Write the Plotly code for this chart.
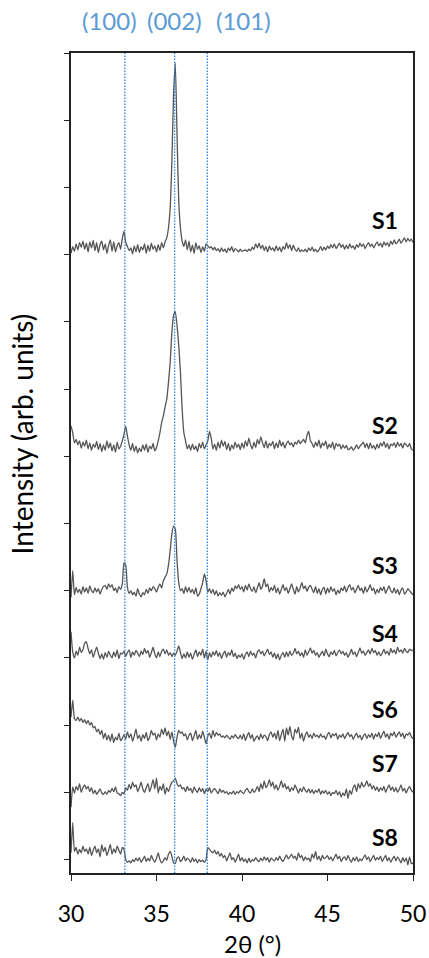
import numpy as np
import plotly.graph_objects as go

# 2-theta grid (degrees), 0.1 deg step
two_theta = np.round(np.arange(30.0, 50.0001, 0.1), 1)

# Intensities (arbitrary counts, 100 = one y-tick spacing), one value per 0.1 deg
S1 = [-8, 2, -5, 6, -3, 8, 1, 10, -2, 7,
      -6, 9, 0, 11, -4, 8, -7, 5, 10, -3,
      6, -8, 4, 12, -5, 9, -6, 3, 8, -2,
      14, 25, 8, 2, -4, 0, -9, 3, -6, 5,
      -7, 2, -3, 6, -8, 4, -5, 7, -2, 3,
      -6, 5, -4, 8, 0, 9, 15, 30, 60, 130,
      230, 275, 170, 70, 30, 10, 2, 12, -3, 10,
      -6, 4, -8, 8, -2, 3, -7, 2, -5, 6,
      3, 0, 2, -3, 1, -4, -1, -6, 0, -5,
      -2, -7, 0, -4, 2, -6, -1, -3, -6, -2,
      -5, -4, -3, -5, -2, -4, 1, -2, 6, 0,
      7, -1, 4, -4, 2, -6, 3, -3, 0, -5,
      3, -4, 1, -6, 2, -2, 8, -1, 5, -4,
      4, -2, -5, 0, -6, -3, -5, -2, -6, 0,
      -4, 1, -5, -2, -6, -3, 2, -4, 1, -3,
      3, -1, 5, 0, 6, -1, 3, 7, 1, 5,
      -2, 4, -1, 6, 0, 3, -2, 5, 1, 7,
      2, 6, -1, 4, 8, 2, 6, 0, 5, 9,
      3, 7, 1, 9, 4, 8, 2, 10, 5, 12,
      6, 9, 13, 7, 11, 15, 9, 14, 10, 13,
      8]

S2 = [30, 20, 5, 10, 2, 8, -3, 6, 0, 9,
      -4, 5, -6, 3, -2, 7, -5, 4, -8, 2,
      -6, 8, -3, 5, -7, 2, -9, 6, -4, 0,
      8, 18, 30, 15, 2, -6, 4, -8, 0, -10,
      -3, -8, 2, -6, 3, -9, 0, -4, 4, -7,
      -2, 8, 20, 35, 45, 58, 70, 95, 125, 170,
      195, 200, 180, 150, 110, 55, 20, 8, -4, 2,
      -6, 3, -5, 0, -8, 4, -3, 6, -4, 2,
      8, 22, 12, -4, 3, -6, 6, -3, 9, 0,
      7, -5, 4, -7, 2, -4, 6, -2, 3, -5,
      5, -3, 8, 0, 12, 2, -4, 6, -2, 10,
      3, 14, 5, -2, 8, -3, 4, 1, 7, -4,
      5, -2, 9, 0, 6, -3, 4, 8, 2, 5,
      -1, 6, 3, 9, 4, 7, 10, 5, 16, 22,
      8, 4, -2, 6, 0, 9, -3, 5, 1, 8,
      -4, 3, -2, 6, -5, 4, 0, 3, -4, 2,
      -3, 1, -5, -4, -1, -6, -3, 2, -4, 0,
      3, 6, -2, 4, -4, 5, -3, 1, -5, 3,
      -3, 5, 0, 7, -2, 4, -4, 3, 1, 5,
      -2, 6, 0, 4, -3, 5, 2, -1, 4, -4,
      -6]

S3 = [-10, 30, -6, 5, -3, 2, -5, 6, -2, 4,
      -4, 7, 0, -3, 4, -2, 3, -5, 2, 6,
      8, 2, 10, 5, 9, 0, 4, -3, 6, 2,
      10, 42, 38, 5, -4, 0, -6, -2, -8, 3,
      -5, -9, -3, -6, 2, -4, 4, 0, 6, 3,
      -2, 5, 10, 4, 15, 20, 25, 38, 60, 85,
      96, 92, 45, 12, 0, 3, -4, 6, -2, 5,
      -3, 2, -5, 4, -8, -5, 3, 12, 25, 15,
      -2, 3, -4, 2, -6, 0, -8, -3, -7, -2,
      -9, -4, 2, -5, 4, -1, 7, 3, 9, 2,
      6, -2, 8, 1, 10, 3, -1, 6, -3, 4,
      12, 2, 7, 18, 6, 10, -2, 5, 0, 8,
      -3, 4, -5, 2, 9, 0, 5, -4, 3, 10,
      2, -5, 6, -2, 4, 12, 3, 7, -1, 5,
      8, 2, -3, 6, -4, 3, -6, 2, 5, -5,
      4, -3, 6, -1, 3, -6, 1, -4, 4, 0,
      7, -2, 5, 9, 1, 5, -3, 2, 8, 0,
      4, -4, 6, -2, 3, 9, 0, 4, -5, 2,
      -3, 5, 0, 6, -4, 2, 7, 0, -3, 4,
      -4, 2, -6, 1, 4, -5, -2, 3, 0, -3,
      -6]

S4 = [35, 5, -4, 6, 0, 12, 4, 8, 18, 20,
      10, 2, 8, -3, 5, 12, 3, -5, 2, -6,
      4, -3, 6, 0, -4, 5, -2, 8, -5, 3,
      2, 6, -2, 4, 8, -3, 5, 0, 7, 3,
      -2, 6, 1, 10, 3, 7, -3, 4, 12, 2,
      -4, 5, -2, 6, 9, 2, 8, 0, 4, -2,
      3, 0, 6, 14, 4, -5, 2, -4, 5, -3,
      3, -6, 1, 8, -2, 5, 0, 9, -4, 6,
      -7, 4, -3, 5, 0, 7, -2, 4, -5, 2,
      6, -3, 4, 0, 8, -2, 3, -5, 0, -3,
      2, -6, 1, 5, -2, 6, 0, 3, -4, 5,
      8, 2, 6, -1, 4, 9, 1, 5, -3, 3,
      -5, 2, -7, 0, 4, -3, 5, -2, 6, 0,
      3, 10, 2, 6, -1, 4, -3, 8, 0, 5,
      11, 3, 7, 0, 4, -3, 2, 6, -1, 9,
      2, -2, 5, 1, 7, -1, 4, 8, 2, 6,
      0, 4, -3, 2, 9, 1, 5, -2, 4, 11,
      3, 6, 0, 4, 8, 2, 10, 4, 7, 0,
      5, -1, 3, 9, 2, 6, 0, 10, 4, 8,
      2, 12, 5, 8, 3, 10, 6, 4, 9, 7,
      8]

S6 = [30, 55, 28, 25, 30, 24, 28, 22, 26, 20,
      25, 18, 22, 14, 16, 8, 12, 4, 10, -2,
      6, -4, 3, -6, 5, -8, 0, -4, 6, -5,
      -2, 4, -3, 8, -1, 5, -6, 2, 12, -2,
      3, -6, 4, -2, 7, -5, 0, 10, 3, 6,
      -4, 5, 0, 12, 4, 14, 2, 9, -3, 8,
      -6, -15, 0, 10, 6, 8, 2, 5, -4, 3,
      6, -5, 2, 10, -3, 4, -2, 9, 0, -10,
      2, 6, -2, 10, 1, 7, 3, 5, 0, 2,
      -1, 3, 0, -3, 2, -1, 4, 0, -2, 3,
      -3, 5, -5, 2, 7, -2, 4, -6, -1, 2,
      -4, 5, -2, 3, 1, -5, 4, 8, 0, 6,
      -3, 10, -5, 4, 12, -6, 14, 3, 16, 2,
      -4, 12, 6, 15, -2, 6, -6, 3, 8, 0,
      4, -2, 6, 1, 3, -1, 5, 0, 2, -3,
      4, 7, -1, 5, 2, 6, -3, 3, 0, 5,
      -2, 3, 7, 1, 4, -3, 2, 6, -1, 3,
      -4, 2, 5, -2, 4, 0, 6, -3, 5, 1,
      7, -2, 4, 9, 0, 5, -3, 6, 2, 8,
      0, 4, 8, 1, 6, -2, 5, 3, 7, 1,
      -2]

S7 = [-25, 5, -4, 6, 0, 10, -3, 4, 8, 2,
      6, -2, 4, -5, 0, -6, -2, 2, -4, -6,
      -2, -6, 0, -3, 3, -2, 5, -4, -5, -8,
      -3, -5, 4, 0, 9, 2, 12, 5, 8, -2,
      4, 12, 2, -3, 4, 10, -2, 6, 16, 2,
      18, -4, 6, 0, 10, -6, 4, -2, 6, 12,
      14, 18, 10, 6, 8, 2, 4, -2, 6, 0,
      3, -4, 5, 0, -3, 4, -2, 3, -5, 2,
      -2, 4, -4, 0, 3, -1, -5, 2, -3, 0,
      -4, -2, -6, -3, -5, -1, -6, -2, -4, 0,
      -3, -5, 0, 3, -2, -4, 2, -3, 0, 6,
      -2, 10, 2, 14, 4, 8, 16, 6, 12, 2,
      8, 0, 6, 14, 4, 10, 2, 6, -2, 4,
      0, 8, 2, -4, 3, -2, 5, 0, -3, 2,
      -4, 1, -5, 0, -3, 2, -6, -1, -4, 0,
      -6, -2, -8, -3, -5, 0, -7, -2, -10, -4,
      -8, 2, -12, 0, -6, 4, 8, -2, 10, 3,
      12, 5, 8, 14, 6, 10, 2, 7, 0, 5,
      -2, 4, 0, 6, -3, 3, 8, 0, 5, -2,
      4, -3, 2, 8, -1, 3, -4, 2, 6, 0,
      -3]

S8 = [10, 55, 12, 18, 8, 15, 10, 20, 12, 16,
      8, 18, 6, 14, 20, 10, 16, 4, 22, 12,
      18, 6, 14, 22, 8, 16, 10, 20, 14, 8,
      18, 15, 0, -4, -2, -5, 0, -3, 2, -2,
      3, -4, 0, 5, -3, 2, -2, 6, 0, -4,
      2, 10, 0, -5, -2, 3, -1, 8, 12, 5,
      -5, -6, 2, 4, -3, 0, 5, -2, 2, 0,
      -4, 3, -3, 1, -5, 0, -3, -1, -4, 0,
      18, 15, 12, 10, 14, 8, 12, 5, 9, 3,
      6, -2, 4, 10, 0, 3, -4, 2, 8, -2,
      3, -3, 1, -5, 2, -4, 0, -2, 3, -1,
      -3, 2, -2, 4, -1, 3, -4, 2, 0, -2,
      3, -1, 5, 0, -3, 2, 7, 1, 4, 8,
      2, 5, -1, 10, 3, 6, -2, 4, 0, 2,
      -3, 8, 2, 12, 0, 5, -2, 6, 1, 3,
      6, 0, 4, -2, 3, 8, 1, 5, -3, 2,
      4, -1, 6, 0, -4, 3, -2, 4, -3, 1,
      -2, 3, 7, 0, 4, -3, 2, 6, -1, 3,
      0, 5, -3, 2, 6, -2, 3, -4, 1, 5,
      -2, 4, 0, -5, 3, -3, 2, -8, 4, -6,
      -5]

sample_names = ["S1", "S2", "S3", "S4", "S6", "S7", "S8"]
sample_data = [S1, S2, S3, S4, S6, S7, S8]
stack_offsets = [9.1, 6.15, 4.0, 3.04, 1.82, 1.03, 0.0]
label_y = [9.52, 6.47, 4.38, 3.37, 2.24, 1.44, 0.34]

peak_pos = [33.15, 36.06, 37.97]
peak_labels = ["(100)", "(002)", "(101)"]
peak_label_x = [32.27, 36.07, 40.1]

FONT = "Lato"
BLUE = "#2F86E0"

fig = go.Figure()
for name, vals, off in zip(sample_names, sample_data, stack_offsets):
    y = off + np.array(vals, dtype=float) / 100.0
    fig.add_trace(go.Scatter(x=two_theta, y=y, mode="lines", name=name,
                             line=dict(color="#555555", width=1.3,
                                       shape="spline", smoothing=0.5),
                             showlegend=False, hoverinfo="skip"))

for p in peak_pos:
    fig.add_shape(type="line", x0=p, x1=p, xref="x", y0=0, y1=1, yref="paper",
                  line=dict(color=BLUE, width=1.3, dash="1.5px,1.5px"), layer="above")

for lx, lt in zip(peak_label_x, peak_labels):
    fig.add_annotation(x=lx, xref="x", y=1.040, yref="paper", text=lt,
                       showarrow=False, font=dict(family=FONT, size=24, color="#5B9BD5"),
                       xanchor="center", yanchor="middle")

for name, ly in zip(sample_names, label_y):
    fig.add_annotation(x=48.35, xref="x", y=ly, yref="y", text="<b>%s</b>" % name,
                       showarrow=False, font=dict(family=FONT, size=23, color="black"),
                       xanchor="center", yanchor="middle")

fig.add_annotation(x=-0.143, xref="paper", y=0.535, yref="paper",
                   text="Intensity (arb. units)", textangle=-90, showarrow=False,
                   font=dict(family=FONT, size=28, color="black"),
                   xanchor="center", yanchor="middle")
fig.add_annotation(x=0.53, xref="paper", y=-0.0854, yref="paper",
                   text="2θ (°)", showarrow=False,
                   font=dict(family=FONT, size=24, color="black"),
                   xanchor="center", yanchor="middle")

fig.update_layout(
    width=429, height=958, autosize=False,
    margin=dict(l=71, r=16, t=53, b=85, autoexpand=False),
    paper_bgcolor="white", plot_bgcolor="white",
    font=dict(family=FONT, color="black"),
    xaxis=dict(range=[30, 50], tick0=30, dtick=5, ticks="outside", ticklen=6,
               tickcolor="#222", tickwidth=1.3, ticklabelstandoff=14,
               automargin=False,
               showline=True, linecolor="#222", linewidth=1.5, mirror=True,
               showgrid=False, zeroline=False,
               tickfont=dict(family=FONT, size=23, color="black")),
    yaxis=dict(range=[-0.2, 12], tick0=0, dtick=1, ticks="outside", ticklen=5,
               tickcolor="#222", tickwidth=1.3, automargin=False,
               showline=True, linecolor="#222", linewidth=1.5, mirror=True,
               showgrid=False, zeroline=False, showticklabels=False),
)

post = ("document.documentElement.style.overflow='hidden';"
        "document.body.style.overflow='hidden';"
        "document.body.style.margin='0';")
fig.write_html("out.html", config={"responsive": False}, post_script=post)
